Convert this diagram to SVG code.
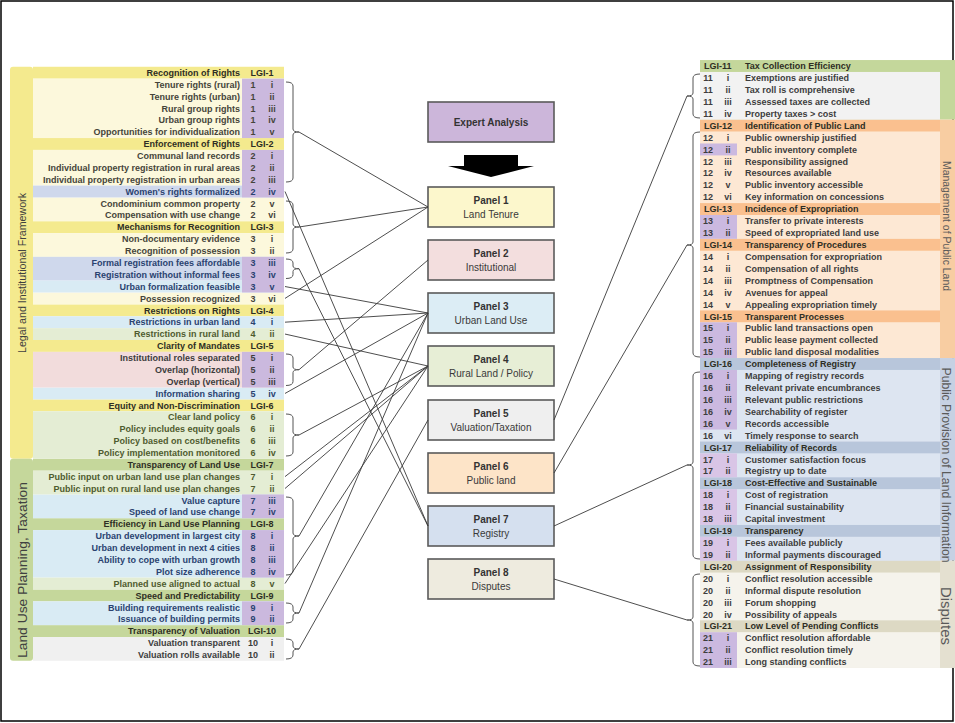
<svg xmlns="http://www.w3.org/2000/svg" width="955" height="723" viewBox="0 0 955 723">
<style>
text{font-family:"Liberation Sans",Arial,sans-serif}
.t{font-size:9px;font-weight:bold;fill:#45443a}
.h{font-size:9px;font-weight:bold;fill:#2e2e24}
.nv{fill:#2a4270}
.ol{fill:#4f5b2f}
.g{fill:#3d3d3d}
.a{text-anchor:end}
.c{text-anchor:middle}
.pt{font-size:10px;font-weight:bold;fill:#333;text-anchor:middle}
.ps{font-size:10px;fill:#3a3a3a;text-anchor:middle}
.pn{stroke:#5a5a5a;stroke-width:1.6}
.ln{stroke:#3a3a3a;stroke-width:0.9;fill:none}
.br{stroke:#555;stroke-width:1;fill:none}
.sd{fill:#404040;text-anchor:middle}
.rs{fill:#5a5a5a;text-anchor:middle}
</style>
<rect x="0" y="0" width="955" height="723" fill="#fff"/>
<rect x="1" y="1" width="952" height="720" fill="none" stroke="#000" stroke-width="1.5"/>

<!-- LEFT TABLE -->
<g id="left-table">
<rect x="10" y="66.76" width="23" height="392.04" rx="3" fill="#f4ea8e"/>
<rect x="10" y="458.8" width="23" height="201.96" rx="3" fill="#c5d79b"/>
<!-- headers -->
<g fill="#f4ea8e">
<rect x="33" y="66.76" width="251" height="11.88"/>
<rect x="33" y="138.04" width="251" height="11.88"/>
<rect x="33" y="221.2" width="251" height="11.88"/>
<rect x="33" y="304.36" width="251" height="11.88"/>
<rect x="33" y="340" width="251" height="11.88"/>
<rect x="33" y="399.4" width="251" height="11.88"/>
</g>
<g fill="#c5d79b">
<rect x="33" y="458.8" width="251" height="11.88"/>
<rect x="33" y="518.2" width="251" height="11.88"/>
<rect x="33" y="589.48" width="251" height="11.88"/>
<rect x="33" y="625.12" width="251" height="11.88"/>
</g>
<g fill="#fcf8dc">
<rect x="33" y="78.64" width="251" height="59.4"/>
<rect x="33" y="149.92" width="251" height="35.64"/>
<rect x="33" y="197.44" width="251" height="23.76"/>
<rect x="33" y="233.08" width="251" height="23.76"/>
<rect x="33" y="292.48" width="251" height="11.88"/>
</g>
<g fill="#cfd8ec">
<rect x="33" y="185.56" width="251" height="11.88"/>
<rect x="33" y="256.84" width="251" height="23.76"/>
</g>
<g fill="#d9ebf4">
<rect x="33" y="280.6" width="251" height="11.88"/>
<rect x="33" y="316.24" width="251" height="11.88"/>
<rect x="33" y="387.52" width="251" height="11.88"/>
<rect x="33" y="494.44" width="251" height="23.76"/>
<rect x="33" y="530.08" width="251" height="47.52"/>
<rect x="33" y="601.36" width="251" height="23.76"/>
</g>
<g fill="#e4edd4">
<rect x="33" y="328.12" width="251" height="11.88"/>
<rect x="33" y="411.28" width="251" height="47.52"/>
<rect x="33" y="470.68" width="251" height="23.76"/>
<rect x="33" y="577.6" width="251" height="11.88"/>
</g>
<rect x="33" y="351.88" width="251" height="35.64" fill="#f2dcdc"/>
<rect x="33" y="637" width="251" height="23.76" fill="#f0f0f0"/>
<g fill="#cbb9de">
<rect x="242" y="78.64" width="42" height="59.4"/>
<rect x="242" y="149.92" width="42" height="47.52"/>
<rect x="242" y="256.84" width="42" height="35.64"/>
<rect x="242" y="351.88" width="42" height="35.64"/>
<rect x="242" y="494.44" width="42" height="23.76"/>
<rect x="242" y="530.08" width="42" height="47.52"/>
<rect x="242" y="601.36" width="42" height="23.76"/>
</g>
<text class="sd" font-size="11" transform="translate(25.5,273) rotate(-90)" textLength="160" lengthAdjust="spacingAndGlyphs">Legal and Institutional Framework</text>
<text class="sd" font-size="13.5" transform="translate(26.5,570) rotate(-90)" textLength="176" lengthAdjust="spacingAndGlyphs">Land Use Planning, Taxation</text>

<g id="lgi1">
<text class="h" y="75.9"><tspan x="240" class="a">Recognition of Rights</tspan><tspan x="262" class="c">LGI-1</tspan></text>
<text class="t" y="87.78"><tspan x="240" class="a">Tenure rights (rural)</tspan><tspan x="253" class="c">1</tspan><tspan x="272" class="c">i</tspan></text>
<text class="t" y="99.66"><tspan x="240" class="a">Tenure rights (urban)</tspan><tspan x="253" class="c">1</tspan><tspan x="272" class="c">ii</tspan></text>
<text class="t" y="111.54"><tspan x="240" class="a">Rural group rights</tspan><tspan x="253" class="c">1</tspan><tspan x="272" class="c">iii</tspan></text>
<text class="t" y="123.42"><tspan x="240" class="a">Urban group rights</tspan><tspan x="253" class="c">1</tspan><tspan x="272" class="c">iv</tspan></text>
<text class="t" y="135.3"><tspan x="240" class="a">Opportunities for individualization</tspan><tspan x="253" class="c">1</tspan><tspan x="272" class="c">v</tspan></text>
</g>
<g id="lgi2">
<text class="h" y="147.18"><tspan x="240" class="a">Enforcement of Rights</tspan><tspan x="262" class="c">LGI-2</tspan></text>
<text class="t" y="159.06"><tspan x="240" class="a">Communal land records</tspan><tspan x="253" class="c">2</tspan><tspan x="272" class="c">i</tspan></text>
<text class="t" y="170.94"><tspan x="240" class="a">Individual property registration in rural areas</tspan><tspan x="253" class="c">2</tspan><tspan x="272" class="c">ii</tspan></text>
<text class="t" y="182.82"><tspan x="240" class="a">Individual property registration in urban areas</tspan><tspan x="253" class="c">2</tspan><tspan x="272" class="c">iii</tspan></text>
<text class="t nv" y="194.7"><tspan x="240" class="a">Women's rights formalized</tspan><tspan x="253" class="c">2</tspan><tspan x="272" class="c">iv</tspan></text>
<text class="t" y="206.58"><tspan x="240" class="a">Condominium common property</tspan><tspan x="253" class="c">2</tspan><tspan x="272" class="c">v</tspan></text>
<text class="t" y="218.46"><tspan x="240" class="a">Compensation with use change</tspan><tspan x="253" class="c">2</tspan><tspan x="272" class="c">vi</tspan></text>
</g>
<g id="lgi3">
<text class="h" y="230.34"><tspan x="240" class="a">Mechanisms for Recognition</tspan><tspan x="262" class="c">LGI-3</tspan></text>
<text class="t" y="242.22"><tspan x="240" class="a">Non-documentary evidence</tspan><tspan x="253" class="c">3</tspan><tspan x="272" class="c">i</tspan></text>
<text class="t" y="254.1"><tspan x="240" class="a">Recognition of possession</tspan><tspan x="253" class="c">3</tspan><tspan x="272" class="c">ii</tspan></text>
<text class="t nv" y="265.98"><tspan x="240" class="a">Formal registration fees affordable</tspan><tspan x="253" class="c">3</tspan><tspan x="272" class="c">iii</tspan></text>
<text class="t nv" y="277.86"><tspan x="240" class="a">Registration without informal fees</tspan><tspan x="253" class="c">3</tspan><tspan x="272" class="c">iv</tspan></text>
<text class="t nv" y="289.74"><tspan x="240" class="a">Urban formalization feasible</tspan><tspan x="253" class="c">3</tspan><tspan x="272" class="c">v</tspan></text>
<text class="t" y="301.62"><tspan x="240" class="a">Possession recognized</tspan><tspan x="253" class="c">3</tspan><tspan x="272" class="c">vi</tspan></text>
</g>
<g id="lgi4">
<text class="h" y="313.5"><tspan x="240" class="a">Restrictions on Rights</tspan><tspan x="262" class="c">LGI-4</tspan></text>
<text class="t nv" y="325.38"><tspan x="240" class="a">Restrictions in urban land</tspan><tspan x="253" class="c">4</tspan><tspan x="272" class="c">i</tspan></text>
<text class="t ol" y="337.26"><tspan x="240" class="a">Restrictions in rural land</tspan><tspan x="253" class="c">4</tspan><tspan x="272" class="c">ii</tspan></text>
</g>
<g id="lgi5">
<text class="h" y="349.14"><tspan x="240" class="a">Clarity of Mandates</tspan><tspan x="262" class="c">LGI-5</tspan></text>
<text class="t g" y="361.02"><tspan x="240" class="a">Institutional roles separated</tspan><tspan x="253" class="c">5</tspan><tspan x="272" class="c">i</tspan></text>
<text class="t g" y="372.9"><tspan x="240" class="a">Overlap (horizontal)</tspan><tspan x="253" class="c">5</tspan><tspan x="272" class="c">ii</tspan></text>
<text class="t g" y="384.78"><tspan x="240" class="a">Overlap (vertical)</tspan><tspan x="253" class="c">5</tspan><tspan x="272" class="c">iii</tspan></text>
<text class="t nv" y="396.66"><tspan x="240" class="a">Information sharing</tspan><tspan x="253" class="c">5</tspan><tspan x="272" class="c">iv</tspan></text>
</g>
<g id="lgi6">
<text class="h" y="408.54"><tspan x="240" class="a">Equity and Non-Discrimination</tspan><tspan x="262" class="c">LGI-6</tspan></text>
<text class="t ol" y="420.42"><tspan x="240" class="a">Clear land policy</tspan><tspan x="253" class="c">6</tspan><tspan x="272" class="c">i</tspan></text>
<text class="t ol" y="432.3"><tspan x="240" class="a">Policy includes equity goals</tspan><tspan x="253" class="c">6</tspan><tspan x="272" class="c">ii</tspan></text>
<text class="t ol" y="444.18"><tspan x="240" class="a">Policy based on cost/benefits</tspan><tspan x="253" class="c">6</tspan><tspan x="272" class="c">iii</tspan></text>
<text class="t ol" y="456.06"><tspan x="240" class="a">Policy implementation monitored</tspan><tspan x="253" class="c">6</tspan><tspan x="272" class="c">iv</tspan></text>
</g>
<g id="lgi7">
<text class="h" y="467.94"><tspan x="240" class="a">Transparency of Land Use</tspan><tspan x="262" class="c">LGI-7</tspan></text>
<text class="t ol" y="479.82"><tspan x="240" class="a">Public input on urban land use plan changes</tspan><tspan x="253" class="c">7</tspan><tspan x="272" class="c">i</tspan></text>
<text class="t ol" y="491.7"><tspan x="240" class="a">Public input on rural land use plan changes</tspan><tspan x="253" class="c">7</tspan><tspan x="272" class="c">ii</tspan></text>
<text class="t nv" y="503.58"><tspan x="240" class="a">Value capture</tspan><tspan x="253" class="c">7</tspan><tspan x="272" class="c">iii</tspan></text>
<text class="t nv" y="515.46"><tspan x="240" class="a">Speed of land use change</tspan><tspan x="253" class="c">7</tspan><tspan x="272" class="c">iv</tspan></text>
</g>
<g id="lgi8">
<text class="h" y="527.34"><tspan x="240" class="a">Efficiency in Land Use Planning</tspan><tspan x="262" class="c">LGI-8</tspan></text>
<text class="t nv" y="539.22"><tspan x="240" class="a">Urban development in largest city</tspan><tspan x="253" class="c">8</tspan><tspan x="272" class="c">i</tspan></text>
<text class="t nv" y="551.1"><tspan x="240" class="a">Urban development in next 4 cities</tspan><tspan x="253" class="c">8</tspan><tspan x="272" class="c">ii</tspan></text>
<text class="t nv" y="562.98"><tspan x="240" class="a">Ability to cope with urban growth</tspan><tspan x="253" class="c">8</tspan><tspan x="272" class="c">iii</tspan></text>
<text class="t nv" y="574.86"><tspan x="240" class="a">Plot size adherence</tspan><tspan x="253" class="c">8</tspan><tspan x="272" class="c">iv</tspan></text>
<text class="t ol" y="586.74"><tspan x="240" class="a">Planned use  aligned to actual</tspan><tspan x="253" class="c">8</tspan><tspan x="272" class="c">v</tspan></text>
</g>
<g id="lgi9">
<text class="h" y="598.62"><tspan x="240" class="a">Speed and Predictability</tspan><tspan x="262" class="c">LGI-9</tspan></text>
<text class="t nv" y="610.5"><tspan x="240" class="a">Building requirements realistic</tspan><tspan x="253" class="c">9</tspan><tspan x="272" class="c">i</tspan></text>
<text class="t nv" y="622.38"><tspan x="240" class="a">Issuance of building permits</tspan><tspan x="253" class="c">9</tspan><tspan x="272" class="c">ii</tspan></text>
</g>
<g id="lgi10">
<text class="h" y="634.26"><tspan x="240" class="a">Transparency of Valuation</tspan><tspan x="262" class="c">LGI-10</tspan></text>
<text class="t g" y="646.14"><tspan x="240" class="a">Valuation transparent</tspan><tspan x="253" class="c">10</tspan><tspan x="272" class="c">i</tspan></text>
<text class="t g" y="658.02"><tspan x="240" class="a">Valuation rolls available</tspan><tspan x="253" class="c">10</tspan><tspan x="272" class="c">ii</tspan></text>
</g>
</g>

<!-- RIGHT TABLE -->
<g id="right-table">
<rect x="700" y="60.04" width="255" height="59.6" fill="#c4d79b"/>
<rect x="700" y="119.64" width="255" height="238.4" fill="#f8cda2"/>
<rect x="700" y="358.04" width="255" height="202.64" fill="#c6d1e3"/>
<rect x="700" y="560.68" width="255" height="107.28" fill="#e4e0d0"/>
<g fill="#fac08f">
<rect x="700" y="119.64" width="240" height="11.92"/>
<rect x="700" y="203.08" width="240" height="11.92"/>
<rect x="700" y="238.84" width="240" height="11.92"/>
<rect x="700" y="310.36" width="240" height="11.92"/>
</g>
<g fill="#b8c6db">
<rect x="700" y="358.04" width="240" height="11.92"/>
<rect x="700" y="441.48" width="240" height="11.92"/>
<rect x="700" y="477.24" width="240" height="11.92"/>
<rect x="700" y="524.92" width="240" height="11.92"/>
</g>
<g fill="#ddd9c4">
<rect x="700" y="560.68" width="240" height="11.92"/>
<rect x="700" y="620.28" width="240" height="11.92"/>
</g>
<rect x="700" y="71.96" width="240" height="47.68" fill="#f2f2f2"/>
<g fill="#fde8d4">
<rect x="700" y="131.56" width="240" height="71.52"/>
<rect x="700" y="215" width="240" height="23.84"/>
<rect x="700" y="250.76" width="240" height="59.6"/>
<rect x="700" y="322.28" width="240" height="35.76"/>
</g>
<g fill="#dde5f1">
<rect x="700" y="369.96" width="240" height="71.52"/>
<rect x="700" y="453.4" width="240" height="23.84"/>
<rect x="700" y="489.16" width="240" height="35.76"/>
<rect x="700" y="536.84" width="240" height="23.84"/>
</g>
<g fill="#f5f3ec">
<rect x="700" y="572.6" width="240" height="47.68"/>
<rect x="700" y="632.2" width="240" height="35.76"/>
</g>
<g fill="#cbb9e0">
<rect x="700" y="143.48" width="37" height="11.92"/>
<rect x="700" y="215" width="37" height="23.84"/>
<rect x="700" y="322.28" width="37" height="35.76"/>
<rect x="700" y="369.96" width="37" height="59.6"/>
<rect x="700" y="632.2" width="37" height="35.76"/>
</g>
<g fill="#d9c5e6">
<rect x="700" y="453.4" width="37" height="23.84"/>
<rect x="700" y="489.16" width="37" height="35.76"/>
<rect x="700" y="536.84" width="37" height="23.84"/>
</g>
<text class="rs" font-size="10.5" transform="translate(943,226) rotate(90)" textLength="130" lengthAdjust="spacingAndGlyphs">Management of Public Land</text>
<text class="rs" font-size="12" transform="translate(942,465) rotate(90)" textLength="195" lengthAdjust="spacingAndGlyphs">Public Provision of Land Information</text>
<text class="rs" font-size="14" transform="translate(941,616) rotate(90)" textLength="58" lengthAdjust="spacingAndGlyphs">Disputes</text>

<g id="lgi11">
<text class="h" y="69.2"><tspan x="704">LGI-11</tspan><tspan x="745">Tax Collection Efficiency</tspan></text>
<text class="t g" y="81.12"><tspan x="708" class="c">11</tspan><tspan x="728" class="c">i</tspan><tspan x="745">Exemptions are justified</tspan></text>
<text class="t g" y="93.04"><tspan x="708" class="c">11</tspan><tspan x="728" class="c">ii</tspan><tspan x="745">Tax roll is comprehensive</tspan></text>
<text class="t g" y="104.96"><tspan x="708" class="c">11</tspan><tspan x="728" class="c">iii</tspan><tspan x="745">Assessed taxes are collected</tspan></text>
<text class="t g" y="116.88"><tspan x="708" class="c">11</tspan><tspan x="728" class="c">iv</tspan><tspan x="745">Property taxes &gt; cost</tspan></text>
</g>
<g id="lgi12">
<text class="h" y="128.8"><tspan x="704">LGI-12</tspan><tspan x="745">Identification of Public Land</tspan></text>
<text class="t g" y="140.72"><tspan x="708" class="c">12</tspan><tspan x="728" class="c">i</tspan><tspan x="745">Public ownership justified</tspan></text>
<text class="t g" y="152.64"><tspan x="708" class="c">12</tspan><tspan x="728" class="c">ii</tspan><tspan x="745">Public inventory complete</tspan></text>
<text class="t g" y="164.56"><tspan x="708" class="c">12</tspan><tspan x="728" class="c">iii</tspan><tspan x="745">Responsibility assigned</tspan></text>
<text class="t g" y="176.48"><tspan x="708" class="c">12</tspan><tspan x="728" class="c">iv</tspan><tspan x="745">Resources available</tspan></text>
<text class="t g" y="188.4"><tspan x="708" class="c">12</tspan><tspan x="728" class="c">v</tspan><tspan x="745">Public inventory accessible</tspan></text>
<text class="t g" y="200.32"><tspan x="708" class="c">12</tspan><tspan x="728" class="c">vi</tspan><tspan x="745">Key information on concessions</tspan></text>
</g>
<g id="lgi13">
<text class="h" y="212.24"><tspan x="704">LGI-13</tspan><tspan x="745">Incidence of Expropriation</tspan></text>
<text class="t g" y="224.16"><tspan x="708" class="c">13</tspan><tspan x="728" class="c">i</tspan><tspan x="745">Transfer to private interests</tspan></text>
<text class="t g" y="236.08"><tspan x="708" class="c">13</tspan><tspan x="728" class="c">ii</tspan><tspan x="745">Speed of expropriated land use</tspan></text>
</g>
<g id="lgi14">
<text class="h" y="248"><tspan x="704">LGI-14</tspan><tspan x="745">Transparency of Procedures</tspan></text>
<text class="t g" y="259.92"><tspan x="708" class="c">14</tspan><tspan x="728" class="c">i</tspan><tspan x="745">Compensation for expropriation</tspan></text>
<text class="t g" y="271.84"><tspan x="708" class="c">14</tspan><tspan x="728" class="c">ii</tspan><tspan x="745">Compensation of all rights</tspan></text>
<text class="t g" y="283.76"><tspan x="708" class="c">14</tspan><tspan x="728" class="c">iii</tspan><tspan x="745">Promptness of Compensation</tspan></text>
<text class="t g" y="295.68"><tspan x="708" class="c">14</tspan><tspan x="728" class="c">iv</tspan><tspan x="745">Avenues for appeal</tspan></text>
<text class="t g" y="307.6"><tspan x="708" class="c">14</tspan><tspan x="728" class="c">v</tspan><tspan x="745">Appealing expropriation timely</tspan></text>
</g>
<g id="lgi15">
<text class="h" y="319.52"><tspan x="704">LGI-15</tspan><tspan x="745">Transparent Processes</tspan></text>
<text class="t g" y="331.44"><tspan x="708" class="c">15</tspan><tspan x="728" class="c">i</tspan><tspan x="745">Public land transactions open</tspan></text>
<text class="t g" y="343.36"><tspan x="708" class="c">15</tspan><tspan x="728" class="c">ii</tspan><tspan x="745">Public lease payment collected</tspan></text>
<text class="t g" y="355.28"><tspan x="708" class="c">15</tspan><tspan x="728" class="c">iii</tspan><tspan x="745">Public land disposal modalities</tspan></text>
</g>
<g id="lgi16">
<text class="h" y="367.2"><tspan x="704">LGI-16</tspan><tspan x="745">Completeness of Registry</tspan></text>
<text class="t g" y="379.12"><tspan x="708" class="c">16</tspan><tspan x="728" class="c">i</tspan><tspan x="745">Mapping of registry records</tspan></text>
<text class="t g" y="391.04"><tspan x="708" class="c">16</tspan><tspan x="728" class="c">ii</tspan><tspan x="745">Relevant private encumbrances</tspan></text>
<text class="t g" y="402.96"><tspan x="708" class="c">16</tspan><tspan x="728" class="c">iii</tspan><tspan x="745">Relevant public restrictions</tspan></text>
<text class="t g" y="414.88"><tspan x="708" class="c">16</tspan><tspan x="728" class="c">iv</tspan><tspan x="745">Searchability of register</tspan></text>
<text class="t g" y="426.8"><tspan x="708" class="c">16</tspan><tspan x="728" class="c">v</tspan><tspan x="745">Records accessible</tspan></text>
<text class="t g" y="438.72"><tspan x="708" class="c">16</tspan><tspan x="728" class="c">vi</tspan><tspan x="745">Timely response to search</tspan></text>
</g>
<g id="lgi17">
<text class="h" y="450.64"><tspan x="704">LGI-17</tspan><tspan x="745">Reliability of Records</tspan></text>
<text class="t g" y="462.56"><tspan x="708" class="c">17</tspan><tspan x="728" class="c">i</tspan><tspan x="745">Customer satisfaction focus</tspan></text>
<text class="t g" y="474.48"><tspan x="708" class="c">17</tspan><tspan x="728" class="c">ii</tspan><tspan x="745">Registry up to date</tspan></text>
</g>
<g id="lgi18">
<text class="h" y="486.4"><tspan x="704">LGI-18</tspan><tspan x="745">Cost-Effective and Sustainable</tspan></text>
<text class="t g" y="498.32"><tspan x="708" class="c">18</tspan><tspan x="728" class="c">i</tspan><tspan x="745">Cost of registration</tspan></text>
<text class="t g" y="510.24"><tspan x="708" class="c">18</tspan><tspan x="728" class="c">ii</tspan><tspan x="745">Financial sustainability</tspan></text>
<text class="t g" y="522.16"><tspan x="708" class="c">18</tspan><tspan x="728" class="c">iii</tspan><tspan x="745">Capital investment</tspan></text>
</g>
<g id="lgi19">
<text class="h" y="534.08"><tspan x="704">LGI-19</tspan><tspan x="745">Transparency</tspan></text>
<text class="t g" y="546"><tspan x="708" class="c">19</tspan><tspan x="728" class="c">i</tspan><tspan x="745">Fees available publicly</tspan></text>
<text class="t g" y="557.92"><tspan x="708" class="c">19</tspan><tspan x="728" class="c">ii</tspan><tspan x="745">Informal payments discouraged</tspan></text>
</g>
<g id="lgi20">
<text class="h" y="569.84"><tspan x="704">LGI-20</tspan><tspan x="745">Assignment of Responsibility</tspan></text>
<text class="t g" y="581.76"><tspan x="708" class="c">20</tspan><tspan x="728" class="c">i</tspan><tspan x="745">Conflict resolution accessible</tspan></text>
<text class="t g" y="593.68"><tspan x="708" class="c">20</tspan><tspan x="728" class="c">ii</tspan><tspan x="745">Informal dispute resolution</tspan></text>
<text class="t g" y="605.6"><tspan x="708" class="c">20</tspan><tspan x="728" class="c">iii</tspan><tspan x="745">Forum shopping</tspan></text>
<text class="t g" y="617.52"><tspan x="708" class="c">20</tspan><tspan x="728" class="c">iv</tspan><tspan x="745">Possibility of appeals</tspan></text>
</g>
<g id="lgi21">
<text class="h" y="629.44"><tspan x="704">LGI-21</tspan><tspan x="745">Low Level of Pending Conflicts</tspan></text>
<text class="t g" y="641.36"><tspan x="708" class="c">21</tspan><tspan x="728" class="c">i</tspan><tspan x="745">Conflict resolution affordable</tspan></text>
<text class="t g" y="653.28"><tspan x="708" class="c">21</tspan><tspan x="728" class="c">ii</tspan><tspan x="745">Conflict resolution timely</tspan></text>
<text class="t g" y="665.2"><tspan x="708" class="c">21</tspan><tspan x="728" class="c">iii</tspan><tspan x="745">Long standing conflicts</tspan></text>
</g>
</g>

<!-- CENTER PANELS -->
<g id="expert"><rect class="pn" x="428" y="102" width="126" height="40" fill="#ccb6da"/><text class="pt" x="491" y="125.5">Expert Analysis</text></g>
<g id="arrow"><polygon points="464,155 518,155 518,166 534,166 491,177 448,166 464,166" fill="#000"/></g>
<g id="panel1"><rect class="pn" x="428" y="187" width="126" height="40" fill="#fcf7cc"/><text class="pt" x="491" y="203.5">Panel 1</text><text class="ps" x="491" y="217.5">Land Tenure</text></g>
<g id="panel2"><rect class="pn" x="428" y="240" width="126" height="40" fill="#f3dede"/><text class="pt" x="491" y="256.5">Panel 2</text><text class="ps" x="491" y="270.5">Institutional</text></g>
<g id="panel3"><rect class="pn" x="428" y="293" width="126" height="40" fill="#dcedf5"/><text class="pt" x="491" y="309.5">Panel 3</text><text class="ps" x="491" y="323.5">Urban Land Use</text></g>
<g id="panel4"><rect class="pn" x="428" y="346" width="126" height="40" fill="#e7eed6"/><text class="pt" x="491" y="362.5">Panel 4</text><text class="ps" x="491" y="376.5">Rural Land / Policy</text></g>
<g id="panel5"><rect class="pn" x="428" y="400" width="126" height="40" fill="#efefef"/><text class="pt" x="491" y="416.5">Panel 5</text><text class="ps" x="491" y="430.5">Valuation/Taxation</text></g>
<g id="panel6"><rect class="pn" x="428" y="453" width="126" height="40" fill="#fde4c8"/><text class="pt" x="491" y="469.5">Panel 6</text><text class="ps" x="491" y="483.5">Public land</text></g>
<g id="panel7"><rect class="pn" x="428" y="506" width="126" height="40" fill="#d5e0ef"/><text class="pt" x="491" y="522.5">Panel 7</text><text class="ps" x="491" y="536.5">Registry</text></g>
<g id="panel8"><rect class="pn" x="428" y="559" width="126" height="40" fill="#eeebdf"/><text class="pt" x="491" y="575.5">Panel 8</text><text class="ps" x="491" y="589.5">Disputes</text></g>

<!-- CONNECTORS -->
<g id="connectors">
<g class="br">
<path d="M286,82 Q293,82 293,86 V129 Q293,132 299,132 Q293,132 293,135 V178 Q293,182 286,182"/>
<path d="M286,201 Q293,201 293,205 V224 Q293,227 299,227 Q293,227 293,230 V249 Q293,253 286,253"/>
<path d="M286,259 Q293,259 293,263 V266 Q293,268.7 299,268.7 Q293,268.7 293,271.5 V274.5 Q293,278.5 286,278.5"/>
<path d="M286,354 Q293,354 293,358 V367 Q293,369.7 299,369.7 Q293,369.7 293,372.5 V381.5 Q293,385.5 286,385.5"/>
<path d="M286,414 Q293,414 293,418 V432 Q293,435 299,435 Q293,435 293,438 V452 Q293,456 286,456"/>
<path d="M286,497 Q293,497 293,501 V533 Q293,536 299,536 Q293,536 293,539 V571 Q293,575 286,575"/>
<path d="M286,603 Q293,603 293,607 V610 Q293,613 299,613 Q293,613 293,616 V619 Q293,623 286,623"/>
<path d="M286,639 Q293,639 293,643 V646 Q293,649 299,649 Q293,649 293,652 V655 Q293,659 286,659"/>
<path d="M700,74 Q693,74 693,78 V93 Q693,96 687,96 Q693,96 693,99 V114 Q693,118 700,118"/>
<path d="M700,132 Q693,132 693,136 V242 Q693,245 687,245 Q693,245 693,248 V353 Q693,357 700,357"/>
<path d="M700,372 Q693,372 693,376 V462 Q693,465 687,465 Q693,465 693,468 V555 Q693,559 700,559"/>
<path d="M700,574 Q693,574 693,578 V617 Q693,620 687,620 Q693,620 693,623 V662 Q693,666 700,666"/>
</g>
<g class="ln">
<line x1="299" y1="132" x2="428" y2="207"/>
<line x1="299" y1="227" x2="428" y2="207"/>
<line x1="285" y1="298.42" x2="428" y2="207"/>
<line x1="299" y1="369.7" x2="428" y2="260"/>
<line x1="285" y1="286.54" x2="428" y2="313"/>
<line x1="285" y1="322.18" x2="428" y2="313"/>
<line x1="285" y1="393.46" x2="428" y2="313"/>
<line x1="299" y1="536" x2="428" y2="313"/>
<line x1="299" y1="613" x2="428" y2="313"/>
<line x1="285" y1="334.06" x2="428" y2="366"/>
<line x1="299" y1="435" x2="428" y2="366"/>
<line x1="285" y1="476.62" x2="428" y2="366"/>
<line x1="285" y1="488.5" x2="428" y2="366"/>
<line x1="285" y1="583.54" x2="428" y2="366"/>
<line x1="299" y1="649" x2="428" y2="420"/>
<line x1="285" y1="191.5" x2="428" y2="526"/>
<line x1="299" y1="268.7" x2="428" y2="526"/>
<line x1="687" y1="96" x2="554" y2="420"/>
<line x1="687" y1="245" x2="554" y2="473"/>
<line x1="687" y1="465" x2="554" y2="526"/>
<line x1="687" y1="620" x2="554" y2="579"/>
</g>
</g>
</svg>
